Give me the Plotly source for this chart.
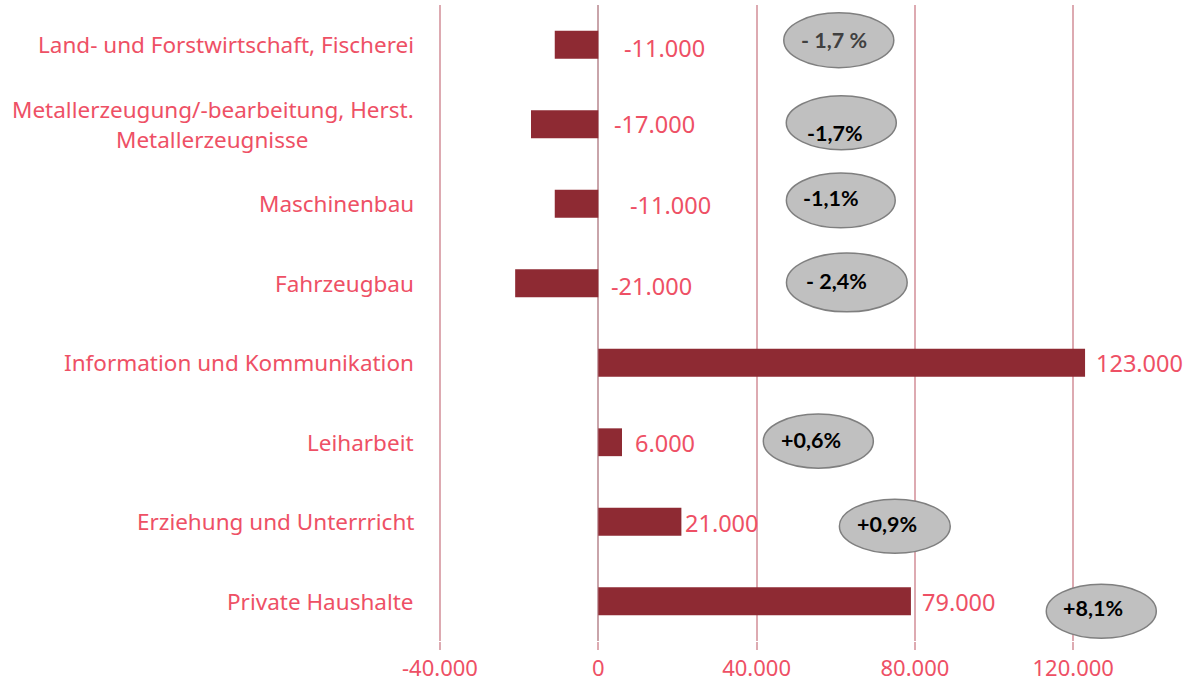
import plotly.graph_objects as go

categories = [
    "Land- und Forstwirtschaft, Fischerei",
    "Metallerzeugung/-bearbeitung, Herst.\nMetallerzeugnisse",
    "Maschinenbau",
    "Fahrzeugbau",
    "Information und Kommunikation",
    "Leiharbeit",
    "Erziehung und Unterrricht",
    "Private Haushalte",
]
values = [-11000, -17000, -11000, -21000, 123000, 6000, 21000, 79000]
value_labels = ["-11.000", "-17.000", "-11.000", "-21.000", "123.000", "6.000", "21.000", "79.000"]
pct_labels = ["- 1,7 %", "-1,7%", "-1,1%", "- 2,4%", None, "+0,6%", "+0,9%", "+8,1%"]
tick_vals = [-40000, 0, 40000, 80000, 120000]
tick_text = ["-40.000", "0", "40.000", "80.000", "120.000"]

# layout helpers (pixel offsets / bubble placement)
label_xshift = [24, 14, 30, 11, 9, 11, 2, 9]
label_yshift = [-3, 0, -1, -3, 0, -1, -1, -1]
bubble_cx = [60770, 61400, 61280, 62800, None, 55600, 74930, 127100]
bubble_cy = [-0.057, 0.982, 1.958, 2.99, None, 4.986, 6.056, 7.126]
bubble_w = [27800, 27800, 27500, 30500, None, 27800, 28000, 27800]
bubble_h = [0.69, 0.68, 0.69, 0.74, None, 0.68, 0.68, 0.68]
text_dx = [-1200, -1500, -2400, -2700, None, -1800, -2000, -2000]
text_dy = [0.0, 0.13, -0.03, -0.02, None, -0.01, -0.03, -0.04]
text_color = ["#404040", "#000000", "#000000", "#000000", None, "#000000", "#000000", "#000000"]

RED = "#EE5065"
BAR = "#8E2A33"
GRID = "#DDAAB1"
FONT = "Noto Sans"

idx = list(range(len(categories)))

fig = go.Figure()
fig.add_trace(go.Bar(
    x=values, y=idx, orientation="h",
    marker=dict(color=BAR, line=dict(width=0)),
    width=0.35, hoverinfo="skip",
))

annotations = []
shapes = []

# category labels (multi-line ones centred)
for i, cat in enumerate(categories):
    lines = cat.split("\n")
    n = len(lines)
    for j, line in enumerate(lines):
        a = dict(
            xref="paper", yref="y", x=0, y=i, xanchor="right", yanchor="middle",
            xshift=-22, yshift=(-(j - (n - 1) / 2) * 30),
            text=line, showarrow=False, align="center",
            font=dict(family=FONT, size=22.5, color=RED),
        )
        if n > 1 and j > 0:
            a["xanchor"] = "center"
            a["xshift"] = -226
        annotations.append(a)

# value labels
for i, (v, lab) in enumerate(zip(values, value_labels)):
    annotations.append(dict(
        x=max(v, 0), y=i, xref="x", yref="y", xanchor="left", yanchor="middle",
        xshift=label_xshift[i], yshift=label_yshift[i],
        text=lab, showarrow=False,
        font=dict(family=FONT, size=23.5, color=RED),
    ))

# percentage bubbles
for i, p in enumerate(pct_labels):
    if p is None:
        continue
    cx, cy, w, h = bubble_cx[i], bubble_cy[i], bubble_w[i], bubble_h[i]
    shapes.append(dict(
        type="circle", xref="x", yref="y",
        x0=cx - w / 2, x1=cx + w / 2, y0=cy - h / 2, y1=cy + h / 2,
        fillcolor="#C0C0C0", line=dict(color="#7F7F7F", width=1.5), layer="above",
    ))
    annotations.append(dict(
        x=cx + text_dx[i], y=cy + text_dy[i], xref="x", yref="y",
        text="<b>" + p + "</b>", showarrow=False,
        font=dict(family="Lato", size=21.5, color=text_color[i]),
    ))

fig.update_layout(
    width=1184, height=686,
    margin=dict(l=438, r=0, t=5, b=45),
    paper_bgcolor="white", plot_bgcolor="white",
    showlegend=False,
    annotations=annotations, shapes=shapes,
)
fig.update_xaxes(
    range=[-40500, 148000], tickvals=tick_vals, ticktext=tick_text,
    showgrid=True, gridcolor=GRID, gridwidth=1.5,
    zeroline=True, zerolinecolor="#C9A4AA", zerolinewidth=1.5,
    ticks="outside", ticklen=8, tickcolor=GRID, tickwidth=1.5,
    tickfont=dict(family=FONT, size=22, color=RED),
    showline=False, fixedrange=True,
)
fig.update_yaxes(
    range=[7.5, -0.5], showticklabels=False, showgrid=False, zeroline=False,
    showline=False, ticks="", tickmode="array", tickvals=idx, fixedrange=True,
)

fig.write_html(
    "out.html",
    config={"displayModeBar": False},
    post_script="document.body.style.margin='0';document.body.style.overflow='hidden';",
)
